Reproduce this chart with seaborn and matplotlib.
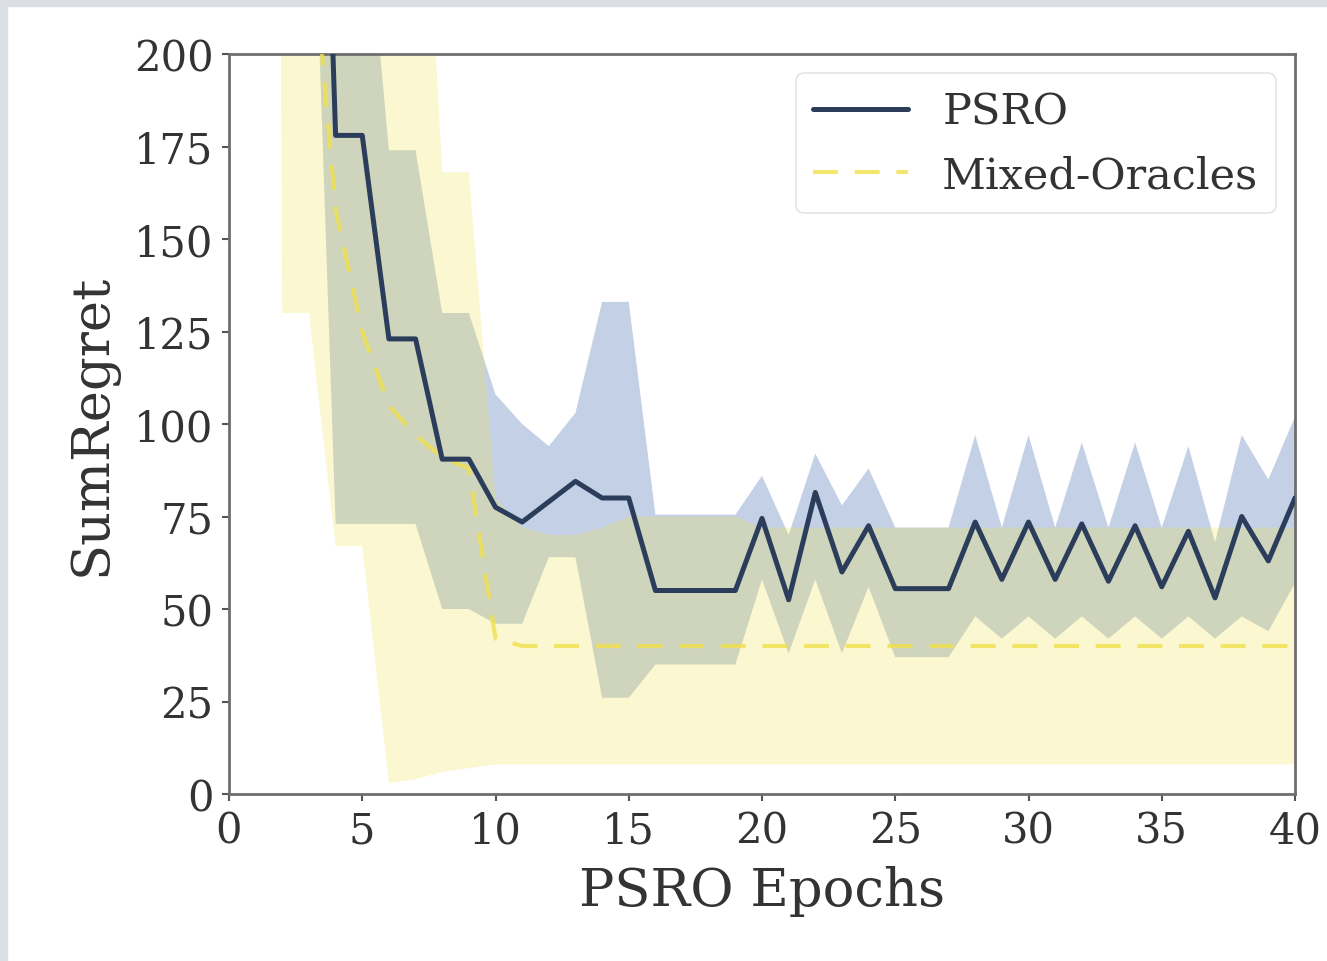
import matplotlib
matplotlib.use("Agg")
import matplotlib.pyplot as plt
from matplotlib.patches import Rectangle
import seaborn as sns

# PSRO epochs 0..40
epochs = list(range(41))

# PSRO: mean SumRegret with lower / upper band
psro_mean = [900, 700, 500, 400, 178, 178, 123, 123, 90.5, 90.5,
             77.5, 73.5, 79, 84.5, 80, 80, 55, 55, 55, 55,
             74.5, 52.5, 81.5, 60, 72.5, 55.5, 55.5, 55.5, 73.5, 58,
             73.5, 58, 73, 57.5, 72.5, 56, 71, 53, 75, 63, 80]
psro_low = [1500, 1200, 700, 285, 73, 73, 73, 73, 50, 50,
            46, 46, 64, 64, 26, 26, 35, 35, 35, 35,
            58, 38, 58, 38, 56, 37, 37, 37, 48, 42,
            48, 42, 48, 42, 48, 42, 48, 42, 48, 44, 57]
psro_high = [2500, 2000, 1500, 1000, 260, 253, 174, 174, 130, 130,
             108, 100, 94, 103, 133, 133, 75.5, 75.5, 75.5, 75.5,
             86, 70, 92, 78, 88, 72, 72, 72, 97, 72,
             97, 72, 95, 72, 95, 72, 94, 68, 97, 85, 102]

# Mixed-Oracles: mean SumRegret with lower / upper band
mo_mean = [600, 450, 320, 240, 158, 125, 105, 97, 91, 88,
           42, 40, 40, 40, 40, 40, 40, 40, 40, 40,
           40, 40, 40, 40, 40, 40, 40, 40, 40, 40,
           40, 40, 40, 40, 40, 40, 40, 40, 40, 40, 40]
mo_low = [2000, 1500, 130, 130, 67, 67, 3, 4, 6, 7,
          8, 8, 8, 8, 8, 8, 8, 8, 8, 8,
          8, 8, 8, 8, 8, 8, 8, 8, 8, 8,
          8, 8, 8, 8, 8, 8, 8, 8, 8, 8, 8]
mo_high = [2500, 2000, 1500, 800, 400, 350, 300, 300, 168, 168,
           80, 72, 70, 70, 72, 75, 75, 75, 75, 75,
           72, 72, 72, 72, 72, 72, 72, 72, 72, 72,
           72, 72, 72, 72, 72, 72, 72, 72, 72, 72, 72]

x_ticks = [0, 5, 10, 15, 20, 25, 30, 35, 40]
y_ticks = [0, 25, 50, 75, 100, 125, 150, 175, 200]

sns.set_style("white")
plt.rcParams["font.family"] = ["DejaVu Serif"]

W, H = 1327, 962
fig = plt.figure(figsize=(W / 100, H / 100), dpi=100)
ax = fig.add_axes([229 / W, 1 - 795 / H, (1295 - 229) / W, (795 - 55) / H])

psro_line = "#2b3d5b"
psro_band = "#4c72b0"
mo_color = "#f0e14a"

ax.fill_between(epochs, psro_low, psro_high, color=psro_band, alpha=0.33,
                linewidth=0, zorder=1)
ax.fill_between(epochs, mo_low, mo_high, color=mo_color, alpha=0.26,
                linewidth=0, zorder=2)

sns.lineplot(x=epochs, y=mo_mean, ax=ax, color=mo_color, linewidth=3.0,
             linestyle=(0, (6, 4)), alpha=0.8, label="Mixed-Oracles",
             errorbar=None, zorder=3)
sns.lineplot(x=epochs, y=psro_mean, ax=ax, color=psro_line, linewidth=3.6,
             label="PSRO", errorbar=None, zorder=4)

ax.set_xlim(0, 40)
ax.set_ylim(0, 200)
ax.set_xticks(x_ticks)
ax.set_yticks(y_ticks)
ax.tick_params(axis="both", which="major", labelsize=30, colors="#555555",
               labelcolor="#333333", length=5, width=1.5, direction="out",
               left=True, bottom=True, pad=6)
for side in ["top", "right", "left", "bottom"]:
    ax.spines[side].set_visible(True)
    ax.spines[side].set_color("#6e6e6e")
    ax.spines[side].set_linewidth(2)

ax.set_xlabel("PSRO Epochs", fontsize=38, color="#333333", labelpad=10)
ax.set_ylabel("SumRegret", fontsize=38, color="#333333", labelpad=12)

handles, labels = ax.get_legend_handles_labels()
order = [labels.index("PSRO"), labels.index("Mixed-Oracles")]
leg = ax.legend([handles[i] for i in order], [labels[i] for i in order],
                loc="upper right", fontsize=31, handlelength=2.2,
                frameon=True, framealpha=0.8, edgecolor="#dddddd",
                labelcolor="#333333", borderaxespad=0.45)
leg.get_frame().set_linewidth(1.2)

# light grey border along the top and left edges of the canvas
fig.patches.append(Rectangle((0, 1 - 7 / H), 1, 7 / H, transform=fig.transFigure,
                             color="#dcdfe3", zorder=0))
fig.patches.append(Rectangle((0, 0), 7 / W, 1, transform=fig.transFigure,
                             color="#dcdfe3", zorder=0))

fig.savefig("out.png", dpi=100)
